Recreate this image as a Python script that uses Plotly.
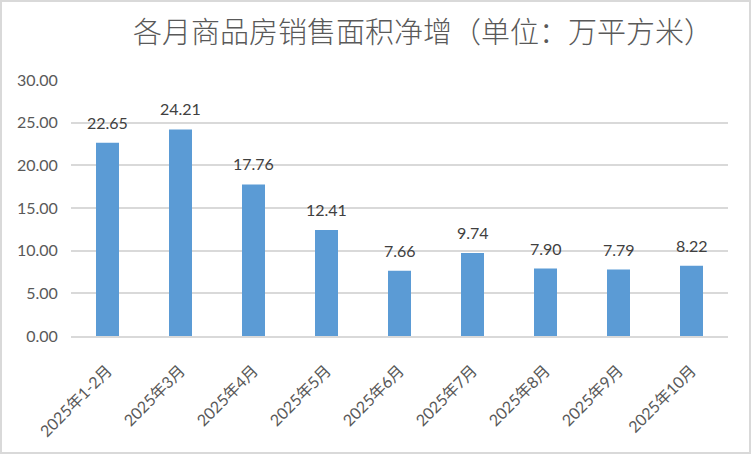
import plotly.graph_objects as go

categories = ["2025年1-2月", "2025年3月", "2025年4月", "2025年5月", "2025年6月",
              "2025年7月", "2025年8月", "2025年9月", "2025年10月"]
values = [22.65, 24.21, 17.76, 12.41, 7.66, 9.74, 7.90, 7.79, 8.22]
y_ticks = [0, 5, 10, 15, 20, 25, 30]
title_text = "各月商品房销售面积净增（单位：万平方米）"

W, H = 752, 455
L, R, T, B = 71, 24, 80, 119
pw, ph = W - L - R, H - T - B
FONT = "Lato, Noto Sans CJK SC"

fig = go.Figure(go.Bar(
    x=categories, y=values,
    marker=dict(color="#5B9BD5", line=dict(width=0)),
    width=0.315,
    hoverinfo="x+y",
))

for c, v in zip(categories, values):
    fig.add_annotation(x=c, y=v, text=f"{v:.2f}", showarrow=False,
                       yanchor="bottom", yshift=9,
                       font=dict(size=16, color="#404040", family=FONT))

fig.update_layout(
    width=W, height=H,
    margin=dict(l=L, r=R, t=T, b=B, autoexpand=False),
    paper_bgcolor="white", plot_bgcolor="white",
    showlegend=False,
    title=dict(text=title_text, x=(423 - L) / pw, xref="paper", xanchor="center",
               y=1 - 33 / H, yanchor="middle", automargin=False,
               font=dict(size=29, color="#595959", family="Noto Sans CJK SC", weight=300)),
    font=dict(family=FONT, color="#595959"),
    bargap=0.685,
)
fig.update_yaxes(
    range=[0, 30], tickvals=y_ticks, ticktext=[f"{v:.2f}" for v in y_ticks],
    showgrid=True, gridcolor="#D9D9D9", gridwidth=2, zeroline=False,
    showline=False, ticks="outside", ticklen=9, tickcolor="rgba(0,0,0,0)",
    tickfont=dict(size=16, color="#595959", family=FONT), automargin=False,
)
fig.update_xaxes(
    showline=True, linecolor="#D9D9D9", linewidth=2, showgrid=False,
    tickangle=-45, ticks="outside", ticklen=17, tickcolor="rgba(0,0,0,0)",
    tickfont=dict(size=16, color="#595959", family=FONT), automargin=False,
)
fig.add_shape(type="rect", xref="paper", yref="paper",
              x0=(1 - L) / pw, x1=(W - 2 - L) / pw,
              y0=-(H - 2 - (T + ph)) / ph, y1=1 + (T - 1) / ph,
              line=dict(color="#D9D9D9", width=2), layer="below")

fig.write_html("out.html", config={"displayModeBar": False},
               post_script="document.body.style.margin='0';")
